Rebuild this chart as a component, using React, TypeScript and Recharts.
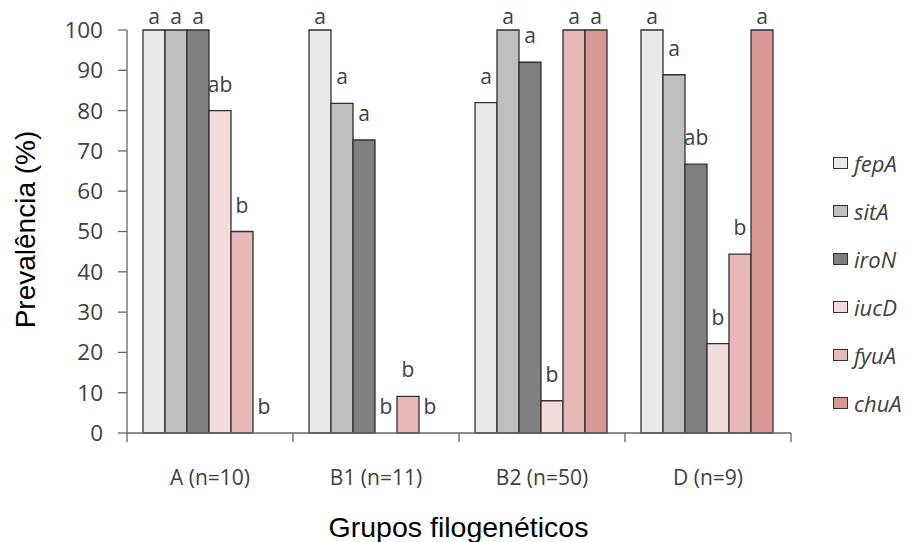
import React from 'react';
import { BarChart, Bar, XAxis, YAxis, Legend, LabelList, Cell } from 'recharts';

const groups = ['A (n=10)', 'B1 (n=11)', 'B2 (n=50)', 'D (n=9)'];
const genes = ['fepA', 'sitA', 'iroN', 'iucD', 'fyuA', 'chuA'];

const fepA = [100, 100, 82, 100];
const sitA = [100, 81.8, 100, 88.9];
const iroN = [100, 72.7, 92, 66.7];
const iucD = [80, 0, 8, 22.2];
const fyuA = [50, 9.1, 100, 44.4];
const chuA = [0, 0, 100, 100];

const fepALetters = ['a', 'a', 'a', 'a'];
const sitALetters = ['a', 'a', 'a', 'a'];
const iroNLetters = ['a', 'a', 'a', 'ab'];
const iucDLetters = ['ab', 'b', 'b', 'b'];
const fyuALetters = ['b', 'b', 'a', 'b'];
const chuALetters = ['b', 'b', 'a', 'a'];

const yTicks = [0, 10, 20, 30, 40, 50, 60, 70, 80, 90, 100];

const colors = ['#e9e9e9', '#bfbfbf', '#7f7f7f', '#f2dcdb', '#e6b9b8', '#d99694'];

const seriesValues = [fepA, sitA, iroN, iucD, fyuA, chuA];
const seriesLetters = [fepALetters, sitALetters, iroNLetters, iucDLetters, fyuALetters, chuALetters];

const data = groups.map((g, i) => {
  const row: Record<string, string | number> = { group: g };
  genes.forEach((gene, k) => {
    row[gene] = seriesValues[k][i];
    row[gene + '_l'] = seriesLetters[k][i];
  });
  return row;
});

const W = 911;
const H = 542;
const MARGIN = { top: 30, right: 120, bottom: 49, left: 57 };
const Y_AXIS_W = 70;
const X_AXIS_H = 60;
const PLOT_TOP = MARGIN.top;
const PLOT_LEFT = MARGIN.left + Y_AXIS_W;
const PLOT_RIGHT = W - MARGIN.right;
const BAND_HALF = (PLOT_RIGHT - PLOT_LEFT) / groups.length / 2;

const AXIS = '#666666';
const TXT = '#404040';
const BAR_STROKE = '#303030';
const FONT = "'Open Sans', sans-serif";
const TITLE_FONT = "'Liberation Sans', Arial, sans-serif";

const renderLetter = (p: any) => {
  const x = Number(p.x);
  const w = Number(p.width);
  const top = Number(p.y);
  if (!isFinite(x) || !isFinite(top)) return null;
  const baseline = Math.max(top - 19, PLOT_TOP - 6);
  return (
    <text x={x + w / 2} y={baseline} textAnchor="middle" fontFamily={FONT} fontSize={21} fill={TXT}>
      {p.value}
    </text>
  );
};

const XTick = (props: any) => {
  const { x, y, payload, index } = props;
  const half = payload && typeof payload.offset === 'number' && payload.offset > 0 ? payload.offset : BAND_HALF;
  const last = index === groups.length - 1;
  return (
    <g>
      <line x1={x - half} x2={x - half} y1={y} y2={y + 9} stroke={AXIS} strokeWidth={1.3} />
      {last && <line x1={x + half} x2={x + half} y1={y} y2={y + 9} stroke={AXIS} strokeWidth={1.3} />}
      <text x={x} y={y + 52} textAnchor="middle" fontFamily={FONT} fontSize={21} fill={TXT}>
        {payload.value}
      </text>
    </g>
  );
};

const renderLegend = () => (
  <div>
    {genes.map((g, i) => (
      <div key={g} style={{ height: 48, display: 'flex', alignItems: 'center' }}>
        <div
          style={{
            width: 15,
            height: 12,
            boxSizing: 'border-box',
            border: '1.3px solid #333',
            background: colors[i],
          }}
        />
        <span
          style={{
            marginLeft: 6,
            fontFamily: FONT,
            fontStyle: 'italic',
            fontSize: 22,
            color: TXT,
            lineHeight: '24px',
          }}
        >
          {g}
        </span>
      </div>
    ))}
  </div>
);

const YTitle = () => (
  <text
    x={35}
    y={229.5}
    transform="rotate(-90, 35, 229.5)"
    textAnchor="middle"
    fontFamily={TITLE_FONT}
    fontSize={28}
    fill="#000"
  >
    Prevalência (%)
  </text>
);

const XTitle = () => (
  <text x={458.5} y={536.5} textAnchor="middle" fontFamily={TITLE_FONT} fontSize={28.5} fill="#000">
    Grupos filogenéticos
  </text>
);

export default function App() {
  return (
    <div style={{ position: 'fixed', left: 0, top: 0, width: W, height: H, background: '#fff' }}>
      <BarChart width={W} height={H} data={data} margin={MARGIN} barCategoryGap={16} barGap={0}>
        <XAxis
          dataKey="group"
          height={X_AXIS_H}
          interval={0}
          tickLine={false}
          tickSize={0}
          tickMargin={0}
          axisLine={{ stroke: AXIS, strokeWidth: 1.3 }}
          tick={<XTick />}
          label={<XTitle />}
        />
        <YAxis
          type="number"
          domain={[0, 100]}
          ticks={yTicks}
          interval={0}
          width={Y_AXIS_W}
          tickSize={9}
          tickMargin={15}
          axisLine={{ stroke: AXIS, strokeWidth: 1.3 }}
          tickLine={{ stroke: AXIS, strokeWidth: 1.3 }}
          tick={{ fill: TXT, fontSize: 22.5, fontFamily: FONT }}
          label={<YTitle />}
        />
        <Legend
          layout="vertical"
          align="center"
          verticalAlign="middle"
          wrapperStyle={{ left: 833, top: 139, width: 78 }}
          content={renderLegend}
        />
        {genes.map((g, k) => (
          <Bar
            key={g}
            dataKey={g}
            name={g}
            fill={colors[k]}
            stroke={BAR_STROKE}
            strokeWidth={1.3}
            minPointSize={(v: number) => (v === 0 ? 0.01 : 0)}
            isAnimationActive={false}
          >
            {seriesValues[k].map((v, i) => (
              <Cell key={i} stroke={v === 0 ? 'none' : BAR_STROKE} />
            ))}
            <LabelList dataKey={g + '_l'} content={renderLetter} />
          </Bar>
        ))}
      </BarChart>
    </div>
  );
}
